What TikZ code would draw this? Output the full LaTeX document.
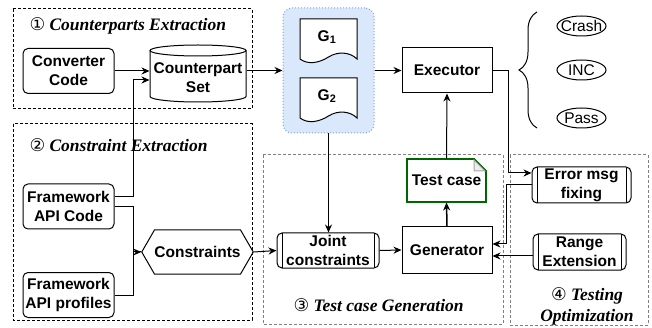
\documentclass[tikz,border=0pt]{standalone}
\usepackage{fontspec}
\setmainfont{Liberation Sans}
\newfontfamily\ttlfont{Liberation Serif}
\newfontfamily\circfont{DejaVu Sans}
\usepackage{tikz}
\usepackage{xcolor}
\usetikzlibrary{arrows.meta,shapes.geometric,shapes.symbols,decorations.pathreplacing}

\definecolor{gfill}{HTML}{DAE8FC}
\definecolor{gline}{HTML}{7EA6E0}
\definecolor{tcgreen}{HTML}{006600}

\newcommand{\circnum}[1]{{\circfont\mdseries\upshape #1}}

\begin{document}
\begin{tikzpicture}[x=1pt,y=-1pt,line width=1pt,>={Stealth[length=8pt,width=7pt]},
    lbl/.style={font=\fontsize{15.5}{19}\selectfont\bfseries,align=center,inner sep=0pt},
    rbox/.style={lbl,draw,rounded corners=5pt,minimum width=91pt,minimum height=45pt},
    sbox/.style={lbl,draw,minimum width=90pt,minimum height=45pt},
    proc/.style={lbl,draw,rounded corners=5pt,path picture={
        \draw ([xshift=5pt]path picture bounding box.north west) -- ([xshift=5pt]path picture bounding box.south west);
        \draw ([xshift=-5pt]path picture bounding box.north east) -- ([xshift=-5pt]path picture bounding box.south east);}},
    hexa/.style={lbl,draw,shape=signal,signal to=east and west,signal pointer angle=120,minimum width=105pt,minimum height=44pt},
    title/.style={font=\ttlfont\bfseries\itshape\fontsize{17.5}{21}\selectfont,inner sep=0pt},
    frame/.style={dash pattern=on 3pt off 2pt}]
        \useasboundingbox (0,0) rectangle (652,328);

        % group frames
        \draw[frame] (13,9) rectangle (252,109);
        \draw[frame] (13,124) rectangle (252,320);
        \draw[frame,gray] (263,155) rectangle (503,324);
        \draw[frame,gray] (510,155) rectangle (648,325);
        \node[title,anchor=west] (t1) at (29,25.5) {\circnum{①} Counterparts Extraction};
        \node[title,anchor=west] (t2) at (29,145) {\circnum{②} Constraint Extraction};
        \node[title,anchor=west] (t3) at (293,305) {\circnum{③} Test case Generation};
        \node[title,align=center] (t4) at (587,306) {\circnum{④} Testing\\Optimization};

        % counterparts
        \node[rbox] (conv) at (68.5,71) {Converter\\Code};
        \draw (198,50.5) ellipse [x radius=48,y radius=5.5];
        \draw (150,50.5) -- (150,96.5) arc[start angle=180,end angle=0,x radius=48,y radius=5.5] -- (246,50.5);
        \node[lbl,minimum width=96pt,minimum height=46pt] (cset) at (198,78) {Counterpart\\Set};

        % G1 and G2
        \node[draw=gline,dotted,fill=gfill,rounded corners=9pt,minimum width=91pt,minimum height=125pt] (grp) at (328.5,70.5) {};
        \begin{scope}[shift={(300,19)}]
            \draw[fill=white] (0,0) -- (57,0) -- (57,40) .. controls (50,33) and (38,32) .. (28.5,38) .. controls (19,44) and (8,46) .. (0,40) -- cycle;
            \node[lbl] (g1) at (27,18) {G\textsubscript{1}};
        \end{scope}
        \begin{scope}[shift={(300,78)}]
            \draw[fill=white] (0,0) -- (57,0) -- (57,40) .. controls (50,33) and (38,32) .. (28.5,38) .. controls (19,44) and (8,46) .. (0,40) -- cycle;
            \node[lbl] (g2) at (27,18) {G\textsubscript{2}};
        \end{scope}

        % executor and results
        \node[sbox] (exec) at (447,70.5) {Executor};
        \draw[decorate,decoration={brace,amplitude=18pt}] (537,128) -- (537,12);
        \node[font=\fontsize{15.5}{18}\selectfont,inner sep=0pt] (crash) at (581.5,26) {Crash};
        \node[font=\fontsize{15.5}{18}\selectfont,inner sep=0pt] (inc) at (581.5,70) {INC};
        \node[font=\fontsize{15.5}{18}\selectfont,inner sep=0pt] (pass) at (581.5,118) {Pass};
        \draw (crash) ellipse [x radius=24.5,y radius=10];
        \draw (inc) ellipse [x radius=24.5,y radius=10];
        \draw (pass) ellipse [x radius=24.5,y radius=10];

        % constraint extraction
        \node[rbox] (apicode) at (68.5,206.5) {Framework\\API Code};
        \node[rbox] (apiprof) at (68.5,295) {Framework\\API profiles};
        \node[hexa] (cons) at (197.5,252) {Constraints};

        % test case generation
        \node[proc,minimum width=102pt,minimum height=35pt] (joint) at (328,250.5) {Joint\\constraints};
        \node[sbox,minimum height=46pt] (gen) at (447,250) {Generator};
        \draw[tcgreen,line width=1.8pt] (407,202) -- (407,159) -- (474,159) -- (486,171) -- (486,202) -- cycle;
        \draw[gray!70,fill=gray!15] (474,160) -- (474,171) -- (485,171) -- cycle;
        \node[lbl,minimum width=79pt,minimum height=43pt] (tc) at (446.5,180.5) {Test case};

        % testing optimization
        \node[proc,minimum width=99pt,minimum height=36pt] (err) at (581.5,185) {Error msg\\fixing};
        \node[proc,minimum width=93pt,minimum height=36pt] (range) at (579.5,252) {Range\\Extension};

        % connectors
        \draw[->] (conv.east) -- (conv.east -| cset.west);
        \draw[->] ([yshift=10pt]apicode.east) -- ++(19,0) |- ([yshift=-2pt]cset.west);
        \draw[->] (cset.east |- grp.west) -- (grp.west);
        \draw[->] (grp.east) -- (exec.west);
        \draw[->] (grp.south) -- (grp.south |- joint.north);
        \draw (apicode.east) -- ++(19,0) |- (cons.west);
        \draw[->] (apiprof.east) -- ++(19,0) |- (cons.west);
        \draw[->] (cons.east) -- (joint.west);
        \draw[->] (joint.east) -- (gen.west);
        \draw[->,line width=1.5pt] (gen.north) -- (tc.south);
        \draw[->] (tc.north) -- (exec.south);
        \draw[->] (exec.east) -- ++(16,0) |- ([yshift=12pt]err.west);
        \draw[->] (err.west) -- ++(-25,0) |- ([yshift=6pt]gen.east);
        \draw[->] ([yshift=-4pt]range.west) -- ([yshift=-6pt]gen.east);
    \end{tikzpicture}
\end{document}
